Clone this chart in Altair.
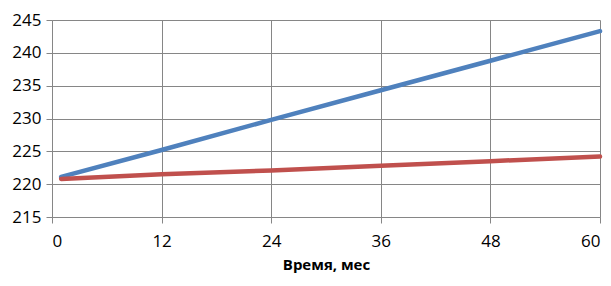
import altair as alt
import pandas as pd

months = [1, 12, 24, 36, 48, 60]
series_a = [221.1, 225.2, 229.8, 234.3, 238.8, 243.3]
series_b = [220.8, 221.5, 222.1, 222.8, 223.5, 224.2]
series_names = ["A", "B"]
colors = ["#4F81BD", "#C0504D"]

rows = []
for m, v in zip(months, series_a):
    rows.append({"x": m, "y": v, "s": series_names[0]})
for m, v in zip(months, series_b):
    rows.append({"x": m, "y": v, "s": series_names[1]})
df = pd.DataFrame(rows)

FONT = "Open Sans"
GRID = "#868686"

chart = alt.Chart(df).mark_line(strokeWidth=4.5, strokeCap="round").encode(
    x=alt.X("x:Q", scale=alt.Scale(domain=[0, 60], nice=False),
            axis=alt.Axis(values=[0, 12, 24, 36, 48, 60], title="Время, мес",
                          titleFont=FONT, titleFontSize=15, titleFontWeight="bold",
                          titleColor="#000000", titlePadding=8,
                          labelFont=FONT, labelFontSize=17, labelColor="#000000",
                          labelPadding=10, tickSize=6, tickColor=GRID,
                          domainColor=GRID, gridColor=GRID, gridOpacity=1)),
    y=alt.Y("y:Q", scale=alt.Scale(domain=[215, 245], nice=False, zero=False),
            axis=alt.Axis(values=[215, 220, 225, 230, 235, 240, 245], title=None,
                          labelFont=FONT, labelFontSize=17, labelColor="#000000",
                          labelPadding=5, tickSize=6, tickColor=GRID,
                          domainColor=GRID, gridColor=GRID, gridOpacity=1)),
    color=alt.Color("s:N", scale=alt.Scale(domain=series_names, range=colors), legend=None),
).properties(
    width=548, height=197,
    autosize=alt.AutoSizeParams(type="none"),
    padding={"left": 44, "top": 12, "right": 3, "bottom": 61},
).configure_view(stroke=None)

chart.save("out.html", embed_options={"renderer": "svg", "actions": False})
